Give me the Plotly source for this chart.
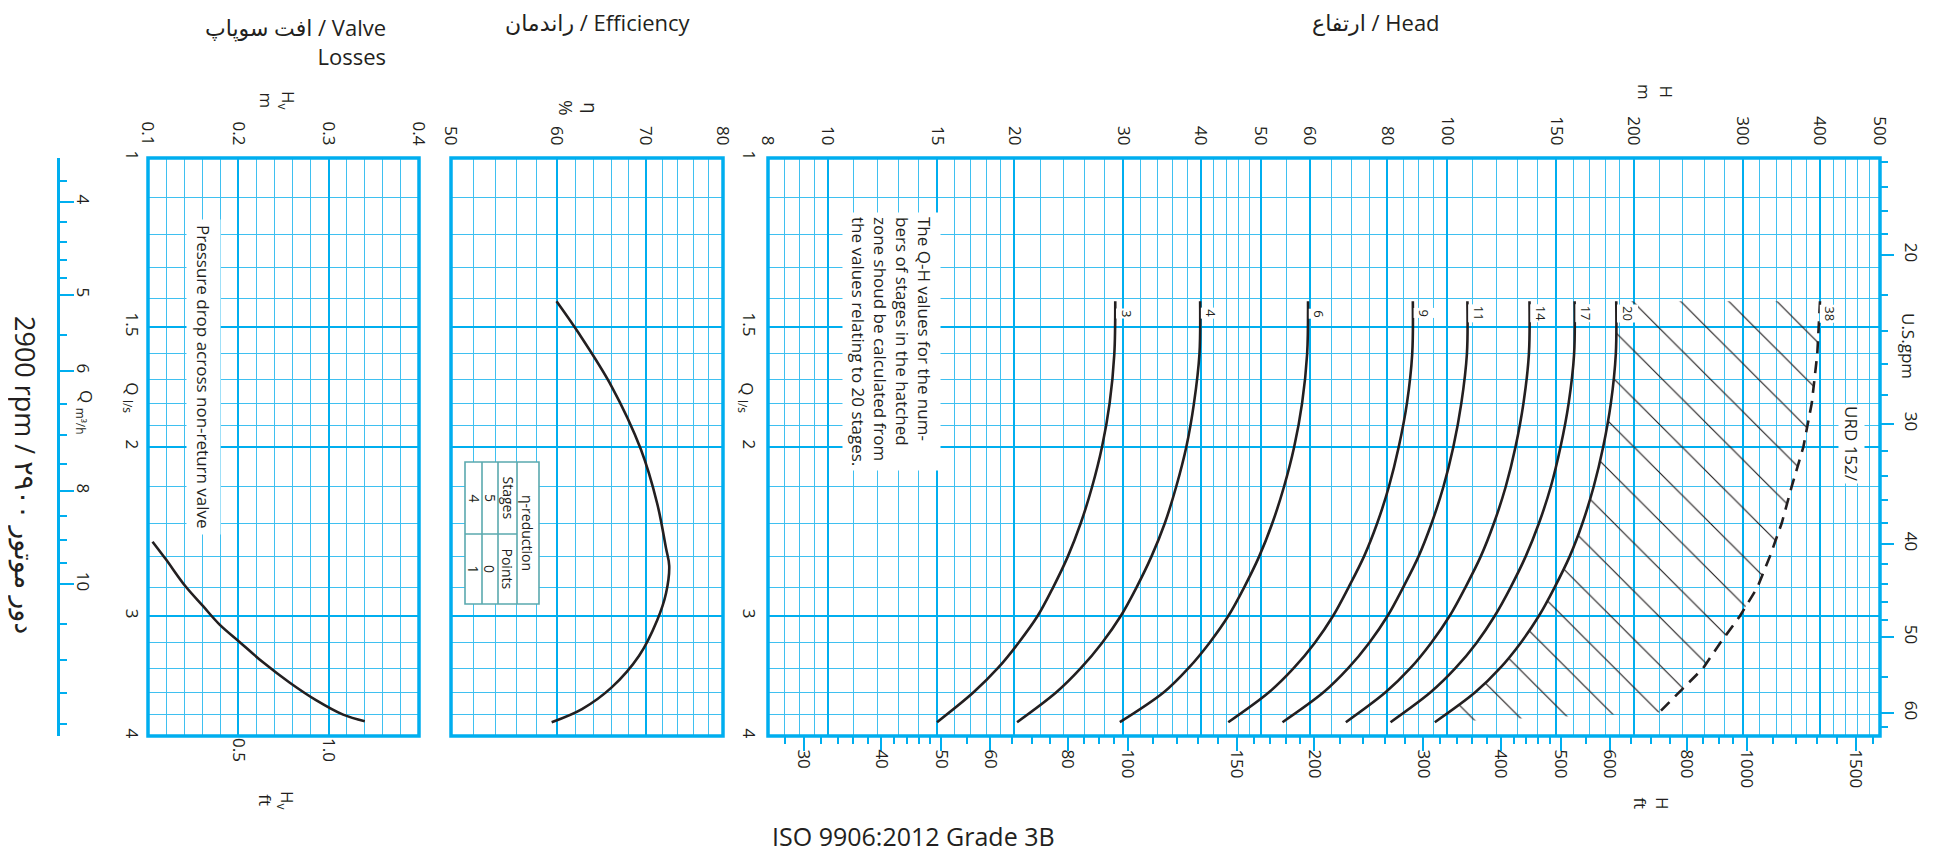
import numpy as np
import plotly.graph_objects as go

# ---- values ----
# flow in l/s (vertical axis), head in m (horizontal axis)
q_head = [1.41, 1.6, 1.8, 2.0, 2.2, 2.4, 2.6, 2.8, 3.0, 3.2, 3.4, 3.6, 3.87]

h_3 = [29.1, 29.0, 28.5, 27.7, 26.7, 25.6, 24.4, 23.1, 21.8, 20.3, 18.8, 17.2, 15.0]
h_4 = [39.9, 39.8, 39.0, 37.9, 36.5, 35.0, 33.3, 31.5, 29.7, 27.7, 25.6, 23.4, 20.2]
h_6 = [59.6, 59.4, 58.3, 56.6, 54.5, 52.2, 49.7, 47.0, 44.3, 41.3, 38.2, 34.9, 29.6]
h_9 = [88.0, 87.8, 86.1, 83.5, 80.5, 77.1, 73.4, 69.3, 65.4, 61.1, 56.5, 51.6, 44.3]
h_11 = [107.8, 107.6, 105.4, 102.3, 98.6, 94.4, 89.9, 84.9, 80.1, 74.8, 69.2, 63.2, 54.2]
h_14 = [135.8, 135.5, 132.8, 128.9, 124.3, 119.0, 113.3, 107.0, 100.9, 94.2, 87.2, 79.6, 68.6]
h_17 = [160.6, 160.3, 157.1, 152.4, 147.0, 140.7, 133.9, 126.6, 119.3, 111.5, 103.1, 94.1, 81.0]
h_20 = [187.5, 187.2, 183.8, 178.6, 172.4, 165.4, 157.7, 149.1, 140.6, 131.4, 121.7, 111.1, 95.5]
stage_labels = ["3", "4", "6", "9", "11", "14", "17", "20"]

# dashed limit of the hatched zone (38 stages)
q_limit = [1.41, 1.6, 1.8, 2.0, 2.2, 2.4, 2.6, 2.8, 3.0, 3.2, 3.4, 3.6, 3.78]
h_limit = [400, 396, 388, 376, 360, 347, 332, 317, 297, 276, 259, 237, 220]

# efficiency %
q_eff = [1.41, 1.52, 1.73, 2.01, 2.29, 2.55, 2.66, 2.84, 3.03, 3.30, 3.56, 3.75, 3.87]
eff = [60.0, 62.3, 66.0, 69.4, 71.4, 72.5, 72.9, 72.5, 71.4, 69.2, 66.0, 62.7, 59.5]

# valve losses Hv in m
q_valve = [2.51, 2.62, 2.79, 2.93, 3.06, 3.19, 3.35, 3.52, 3.67, 3.80, 3.86]
hv = [0.105, 0.120, 0.141, 0.161, 0.179, 0.201, 0.227, 0.257, 0.286, 0.316, 0.340]

# axis ticks
q_ticks = [1, 1.5, 2, 3, 4]
q_minor = [1.1, 1.2, 1.3, 1.4, 1.6, 1.7, 1.8, 1.9, 2.2, 2.4, 2.6, 2.8, 3.2, 3.4, 3.6, 3.8]
m3h_ticks = [4, 5, 6, 8, 10]
m3h_minor = [3.8, 4.2, 4.4, 4.6, 4.8, 5.5, 6.5, 7, 7.5, 8.5, 9, 9.5, 11, 12, 13, 14]
gpm_ticks = [20, 30, 40, 50, 60]
gpm_minor = [16, 17, 18, 19, 22, 24, 26, 28, 32, 34, 36, 38, 42, 44, 46, 48, 55, 62]
hm_ticks = [8, 10, 15, 20, 30, 40, 50, 60, 80, 100, 150, 200, 300, 400, 500]
hm_minor = [8.5, 9, 9.5, 11, 12, 13, 14, 16, 17, 18, 19, 22, 24, 26, 28, 32, 34, 36, 38,
            42, 44, 46, 48, 55, 65, 70, 75, 85, 90, 95, 110, 120, 130, 140, 160, 170, 180,
            190, 220, 240, 260, 280, 320, 340, 360, 380, 420, 440, 460, 480]
hft_ticks = [30, 40, 50, 60, 80, 100, 150, 200, 300, 400, 500, 600, 800, 1000, 1500]
hft_minor = [28, 32, 34, 36, 38, 42, 44, 46, 48, 55, 65, 70, 75, 85, 90, 95, 110, 120, 130,
             140, 160, 170, 180, 190, 220, 240, 260, 280, 320, 340, 360, 380, 420, 440, 460,
             480, 550, 650, 700, 750, 850, 900, 950, 1100, 1200, 1300, 1400, 1600]
eff_ticks = [50, 60, 70, 80]
eff_minor = [52, 54, 56, 58, 62, 64, 66, 68, 72, 74, 76, 78]
hv_ticks = [0.1, 0.2, 0.3, 0.4]
hv_minor = [0.12, 0.14, 0.16, 0.18, 0.22, 0.24, 0.26, 0.28, 0.32, 0.34, 0.36, 0.38]
hvft_ticks = [0.5, 1.0]

Q_MIN, Q_MAX = 1, 4
M_TO_FT = 3.28084
LS_TO_M3H = 3.6
LS_TO_GPM = 15.8503
HV_FT_PER_M = 5.0   # ft scale printed under the valve panel (0.5 at 0.2 m, 1.0 at 0.3 m)

# page has an 8px body margin, so the figure is 16px smaller than the window
PAD = 8
W, H = 1934 - 2 * PAD, 862 - 2 * PAD
GRID = "#00aeef"
GRID_MINOR = "#3fc0f0"
INK = "#231f20"
TABLE = "#5aa9ae"
FONT = "Open Sans, DejaVu Sans, sans-serif"
TICK = 17


def fx(p):
    return (p - PAD) / W


def fy(p):
    return 1 - (p - PAD) / H


Y_DOM = [fy(736), fy(158)]


def grid_axis(tickvals, minor_vals, **kw):
    ax = dict(showgrid=True, gridcolor=GRID, gridwidth=2.4, zeroline=False, showline=False,
              ticks="", tickangle=90, tickmode="array", tickvals=tickvals,
              ticktext=[f"{v:g}" for v in tickvals], automargin=False, fixedrange=True,
              tickfont=dict(size=TICK, color=INK, family=FONT), ticklabelstandoff=9,
              minor=dict(tickmode="array", tickvals=minor_vals, showgrid=True,
                         gridcolor=GRID_MINOR, gridwidth=1.3, ticks=""))
    ax.update(kw)
    return ax


def tick_axis(tickvals, minor_vals, **kw):
    ax = dict(showgrid=False, zeroline=False, ticks="outside", ticklen=14, tickwidth=2,
              tickcolor=GRID, tickangle=90, tickmode="array", tickvals=tickvals,
              ticktext=[f"{v:g}" for v in tickvals], automargin=False, fixedrange=True,
              tickfont=dict(size=TICK, color=INK, family=FONT),
              minor=dict(tickmode="array", tickvals=minor_vals, ticks="outside",
                         ticklen=7, tickwidth=1.5, tickcolor=GRID, showgrid=False))
    ax.update(kw)
    return ax


fig = go.Figure()

curve = dict(color=INK, width=2.6, shape="spline")

# hatched zone between 20-stage curve and limit line
fig.add_trace(go.Scatter(
    x=h_20 + h_limit[::-1], y=q_head + q_limit[::-1], xaxis="x3", yaxis="y2",
    mode="lines", line=dict(width=0), fill="toself", fillcolor=INK,
    fillpattern=dict(shape="\\", size=34, solidity=0.035, fgcolor=INK),
    hoverinfo="skip"))

for h in [h_3, h_4, h_6, h_9, h_11, h_14, h_17, h_20]:
    fig.add_trace(go.Scatter(x=h, y=q_head, xaxis="x3", yaxis="y2", mode="lines", line=curve))

fig.add_trace(go.Scatter(x=h_limit, y=q_limit, xaxis="x3", yaxis="y2", mode="lines",
                         line=dict(color=INK, width=2.6, dash="12px,8px")))
fig.add_trace(go.Scatter(x=eff, y=q_eff, xaxis="x2", yaxis="y", mode="lines", line=curve))
fig.add_trace(go.Scatter(x=hv, y=q_valve, xaxis="x", yaxis="y", mode="lines", line=curve))

# invisible copies in the secondary units, so the unit axes get drawn
ghost = dict(mode="lines", line=dict(width=0), opacity=0, hoverinfo="skip")
fig.add_trace(go.Scatter(x=[(v - hv_ticks[0]) * HV_FT_PER_M for v in hv], y=q_valve,
                         xaxis="x4", yaxis="y", **ghost))
fig.add_trace(go.Scatter(x=[v * M_TO_FT for v in h_20], y=q_head, xaxis="x5", yaxis="y2",
                         **ghost))
fig.add_trace(go.Scatter(x=hv, y=[q * LS_TO_M3H for q in q_valve], xaxis="x", yaxis="y3",
                         **ghost))
fig.add_trace(go.Scatter(x=h_20, y=[q * LS_TO_GPM for q in q_head], xaxis="x3", yaxis="y4",
                         **ghost))

q_range = [np.log10(Q_MAX), np.log10(Q_MIN)]

fig.update_layout(
    width=W, height=H, margin=dict(l=0, r=0, t=0, b=0), showlegend=False,
    paper_bgcolor="white", plot_bgcolor="white", template="none",
    font=dict(family=FONT, color=INK, size=15),
    # valve losses, m (top) and ft (bottom)
    xaxis=grid_axis(hv_ticks, hv_minor, domain=[fx(148), fx(419)], range=[0.1, 0.4],
                    side="top", anchor="y"),
    xaxis4=dict(overlaying="x", anchor="y", side="bottom", range=[0, 1.5], showgrid=False,
                zeroline=False, ticks="", tickangle=90, tickvals=hvft_ticks,
                ticktext=["0.5", "1.0"], ticklabelstandoff=1, automargin=False,
                fixedrange=True, tickfont=dict(size=TICK, color=INK, family=FONT)),
    # efficiency
    xaxis2=grid_axis(eff_ticks, eff_minor, type="log", domain=[fx(451), fx(723)],
                     range=[np.log10(50), np.log10(80)], side="top", anchor="y"),
    # head m (top) and ft (bottom)
    xaxis3=grid_axis(hm_ticks, hm_minor, type="log", domain=[fx(768), fx(1880)],
                     range=[np.log10(8), np.log10(500)], side="top", anchor="y2"),
    xaxis5=tick_axis(hft_ticks, hft_minor, type="log", overlaying="x3", anchor="y2",
                     side="bottom", ticklabelstandoff=-5,
                     range=[np.log10(8 * M_TO_FT), np.log10(500 * M_TO_FT)]),
    # flow axes
    yaxis=grid_axis(q_ticks, q_minor, type="log", domain=Y_DOM, range=q_range,
                    side="left", anchor="x", ticklabelstandoff=4),
    yaxis2=grid_axis(q_ticks, q_minor, type="log", domain=Y_DOM, range=q_range,
                     side="left", anchor="x3", ticklabelstandoff=7),
    yaxis3=tick_axis(m3h_ticks, m3h_minor, type="log", overlaying="y", anchor="free",
                     position=fx(58), side="right", showline=True, linecolor=GRID,
                     linewidth=3, ticklabelstandoff=-4,
                     range=[np.log10(Q_MAX * LS_TO_M3H), np.log10(Q_MIN * LS_TO_M3H)]),
    yaxis4=tick_axis(gpm_ticks, gpm_minor, type="log", overlaying="y2", anchor="free",
                     position=fx(1880), side="right", ticklen=13, ticklabelstandoff=4,
                     range=[np.log10(Q_MAX * LS_TO_GPM), np.log10(Q_MIN * LS_TO_GPM)]),
)

# panel frames
shapes = []
for xr, yr in [("x", "y"), ("x2", "y"), ("x3", "y2")]:
    shapes.append(dict(type="rect", xref=f"{xr} domain", yref=f"{yr} domain", x0=0, x1=1,
                       y0=0, y1=1, line=dict(color=GRID, width=3.5)))

# eta-reduction table
tx0, tx1, ty0, ty1 = 465, 539, 462, 604
shapes.append(dict(type="rect", xref="paper", yref="paper", x0=fx(tx0), x1=fx(tx1),
                   y0=fy(ty1), y1=fy(ty0), fillcolor="white", line=dict(color=TABLE, width=1.6)))
for xv in [482, 498, 517]:
    shapes.append(dict(type="line", xref="paper", yref="paper", x0=fx(xv), x1=fx(xv),
                       y0=fy(ty1), y1=fy(ty0), line=dict(color=TABLE, width=1.6)))
shapes.append(dict(type="line", xref="paper", yref="paper", x0=fx(tx0), x1=fx(517),
                   y0=fy(534), y1=fy(534), line=dict(color=TABLE, width=1.6)))
fig.update_layout(shapes=shapes)


def label(text, x, y, size=15, angle=90, **kw):
    d = dict(text=text, x=fx(x), y=fy(y), xref="paper", yref="paper", showarrow=False,
             textangle=angle, xanchor="center", yanchor="middle",
             font=dict(size=size, color=INK, family=FONT))
    d.update(kw)
    return d


ann = [
    label("افت سوپاپ / Valve<br>Losses", 388, 42, size=22, angle=0, xanchor="right",
          align="right"),
    label("راندمان / Efficiency", 598, 22, size=22, angle=0),
    label("ارتفاع / Head", 1376, 22, size=22, angle=0),
    label("ISO 9906:2012 Grade 3B", 913, 855, size=25, angle=0, yanchor="bottom"),
    label("2900 rpm / دور موتور ۲۹۰۰", 25, 475, size=27),
    label("H<sub>v</sub><br>m", 278, 100, size=17),
    label("η<br>%", 578, 108, size=19),
    label("H<br>m", 1656, 92, size=17),
    label("H<br>ft", 1652, 803, size=17),
    label("H<sub>v</sub><br>ft", 277, 800, size=17),
    label("Q <sub>m³/h</sub>", 86, 412, size=17),
    label("U.S.gpm", 1909, 346, size=17),
    label("URD 152/", 1852, 444, size=17, bgcolor="white"),
    label("Pressure drop across non-return valve", 204, 377, size=17, bgcolor="white",
          borderpad=5),
    label("The Q-H values for the num-<br>bers of stages in the hatched<br>"
          "zone shoud be calculated from<br>the values relating to 20 stages.",
          891, 341, size=17, align="left", bgcolor="white", borderpad=4),
    label("η-reduction", 528, 533, size=14),
    label("Stages", 507.5, 498, size=14),
    label("Points", 507.5, 569, size=14),
    label("5", 490, 498, size=14),
    label("0", 490, 569, size=14),
    label("4", 473.5, 498, size=14),
    label("1", 473.5, 569, size=14),
]
for xq in [132, 747]:
    ann.append(dict(text="Q <sub>l/s</sub>", x=fx(xq), xref="paper", y=np.log10(1.775), yref="y",
                    showarrow=False, textangle=90, xanchor="center", yanchor="middle",
                    font=dict(size=TICK, color=INK, family=FONT)))

for txt, h in zip(stage_labels, [h_3, h_4, h_6, h_9, h_11, h_14, h_17, h_20]):
    ann.append(dict(text=txt, x=np.log10(h[0]), y=np.log10(q_head[0]), xref="x3", yref="y2",
                    showarrow=False, textangle=90, xshift=11, yshift=-12, bgcolor="white",
                    xanchor="center", yanchor="middle",
                    font=dict(size=13, color=INK, family=FONT)))
ann.append(dict(text="38", x=np.log10(h_limit[0]), y=np.log10(q_limit[0]), xref="x3",
                yref="y2", showarrow=False, textangle=90, xshift=10, yshift=-13,
                xanchor="center", yanchor="middle",
                bgcolor="white", font=dict(size=13, color=INK, family=FONT)))
fig.update_layout(annotations=ann)

fig.write_html("out.html")
